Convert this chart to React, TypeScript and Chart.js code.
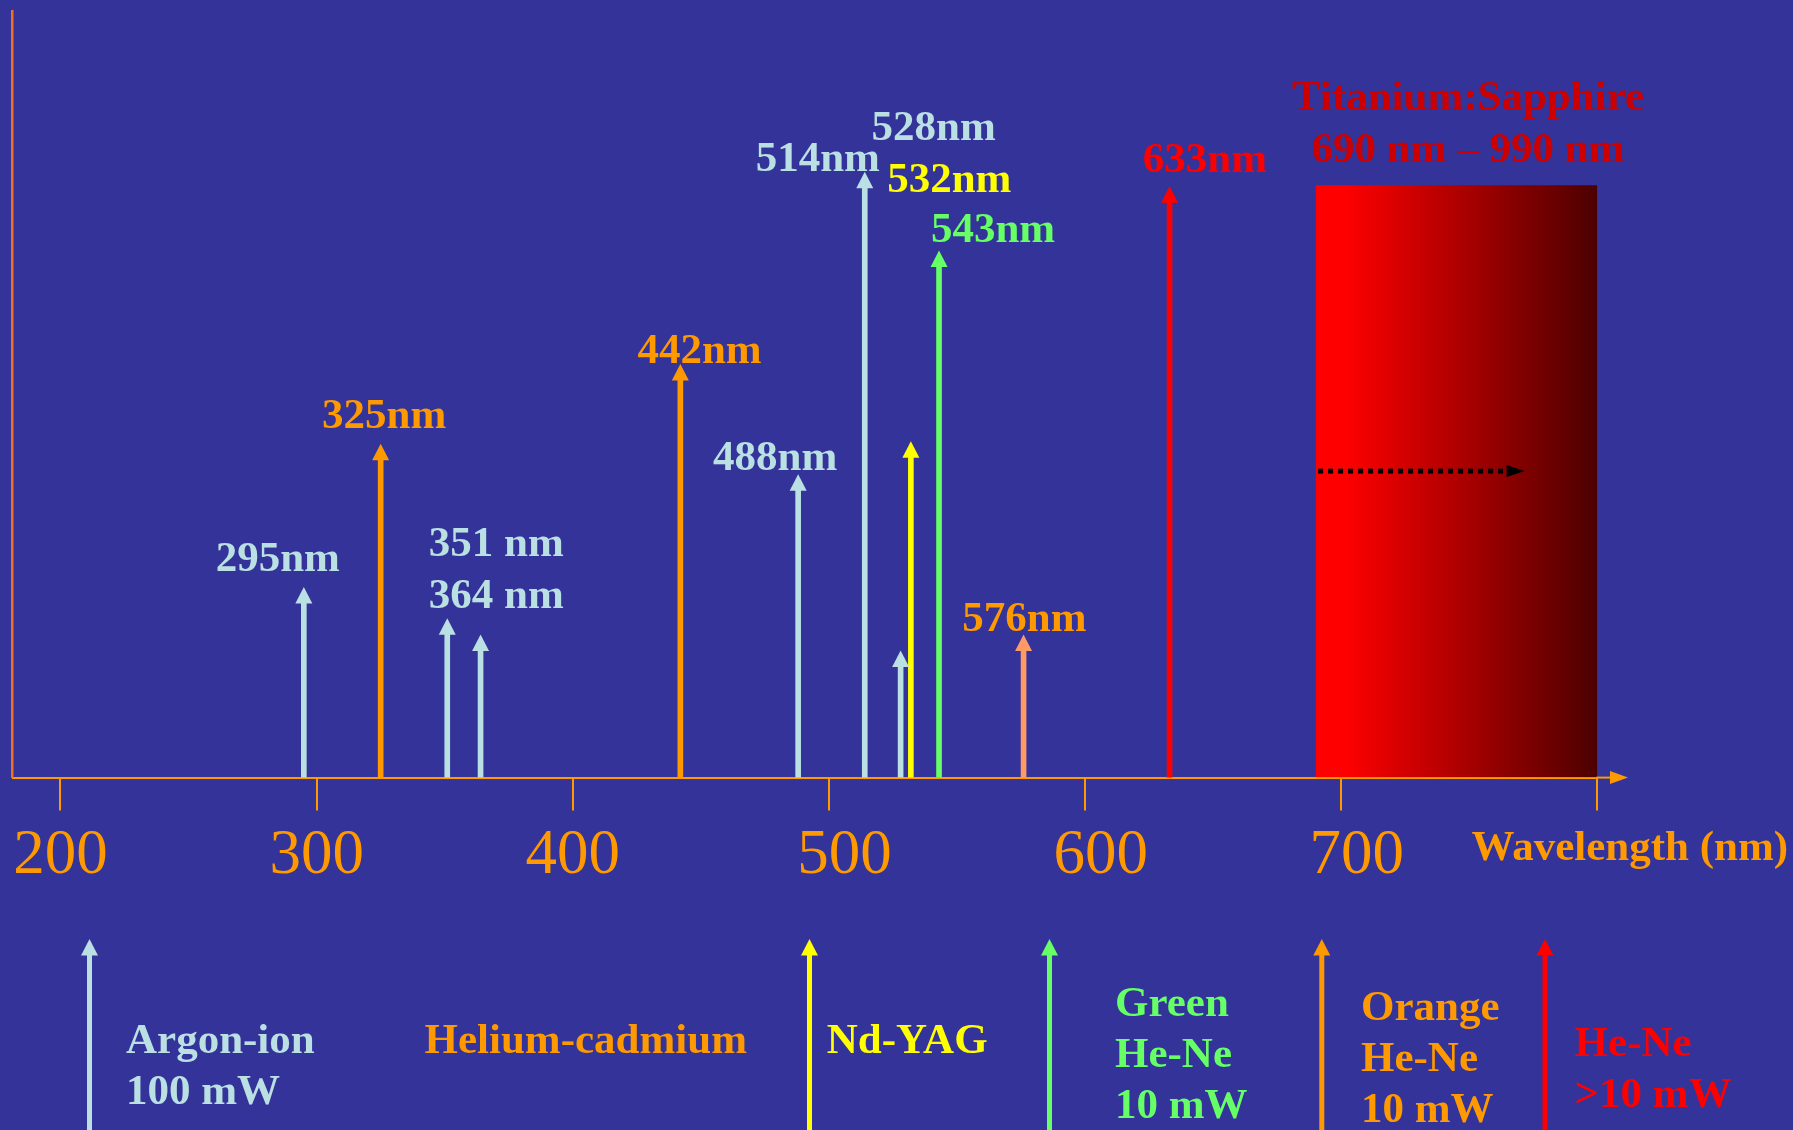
import React, { useEffect, useRef } from 'react';
import { Chart, registerables } from 'chart.js';

Chart.register(...registerables);

// ---- Laser lines on the wavelength axis ----
const WAVELENGTHS = [295, 325, 351, 364, 442, 488, 514, 528, 532, 543, 576, 633];
const LINE_LABELS = ['295nm', '325nm', '351 nm', '364 nm', '442nm', '488nm', '514nm', '528nm', '532nm', '543nm', '576nm', '633nm'];
// relative line strength (height of each arrow shaft)
const LINE_HEIGHTS = [22.8, 41.5, 18.7, 16.6, 51.9, 37.5, 77.0, 14.5, 41.8, 66.7, 16.6, 75.1];
const LINE_SOURCES = ['argon', 'hecd', 'argon', 'argon', 'hecd', 'argon', 'argon', 'argon', 'ndyag', 'greenHeNe', 'orangeHeNe', 'redHeNe'];

// ---- Axis ----
const TICK_VALUES = [200, 300, 400, 500, 600, 700, 800];
const TICK_LABELS = ['200', '300', '400', '500', '600', '700', ''];
const AXIS_TITLE = 'Wavelength (nm)';

// ---- Tunable Ti:Sapphire band ----
const TISA_NAME = 'Titanium:Sapphire';
const TISA_RANGE_TEXT = '690 nm – 990 nm';
const TISA_RANGE = [690, 990];
const TISA_LEVEL = 77.3;
const TUNING_SPAN = [691, 765];
const TUNING_LEVEL = 40;

// ---- Laser key below the axis ----
const LASER_KEYS = ['argon', 'hecd', 'ndyag', 'greenHeNe', 'orangeHeNe', 'redHeNe'];
const LASER_TEXT = [
  ['Argon-ion', '100 mW'],
  ['Helium-cadmium'],
  ['Nd-YAG'],
  ['Green', 'He-Ne', '10 mW'],
  ['Orange', 'He-Ne', '10 mW'],
  ['He-Ne', '>10 mW'],
];
const LASER_HAS_ARROW = [true, false, true, true, true, true];

// ---- Styling & layout ----
const W = 1793;
const H = 1130;
const BG = '#333399';
const AXIS_COLOR = '#FF9900';
const Y_AXIS_COLOR = '#F0701E';
const SERIF = '"Liberation Serif", "Times New Roman", serif';
const BOLD = `bold 43px ${SERIF}`;

const TEXT_COLORS: Record<string, string> = {
  argon: '#BBE0E3',
  hecd: '#FF9900',
  ndyag: '#FFFF00',
  greenHeNe: '#66FF66',
  orangeHeNe: '#FF9900',
  redHeNe: '#FF0000',
};
const ARROW_COLORS: Record<string, string> = {
  argon: '#BBE0E3',
  hecd: '#FF9900',
  ndyag: '#FFFF00',
  greenHeNe: '#66FF66',
  orangeHeNe: '#FF9966',
  redHeNe: '#FF0000',
};
const KEY_ARROW_COLORS: Record<string, string> = { ...ARROW_COLORS, orangeHeNe: '#FF9900' };

// label placement: horizontal shift from its arrow (px) and vertical level (y units)
const LABEL_LAYOUT = [
  { dx: -26, level: 28.8 },
  { dx: 3.5, level: 47.5 },
  { dx: 49, level: 30.7 },
  { dx: 15.7, level: 24.0 },
  { dx: 19.2, level: 55.9 },
  { dx: -23, level: 42.0 },
  { dx: -47, level: 81.0 },
  { dx: 33, level: 85.1 },
  { dx: 38.4, level: 78.3 },
  { dx: 54, level: 71.7 },
  { dx: 0.8, level: 21.0 },
  { dx: 35.4, level: 80.9 },
];
const TICK_LABEL_SHIFT = [0, 0, 0, 15.6, 15.6, 15.6, 0];
const TICK_LABEL_BASELINE = 873;

const KEY_LAYOUT = [
  { arrowX: 89.5, textX: 126, baseY: 1053 },
  { arrowX: 0, textX: 424.5, baseY: 1052.7 },
  { arrowX: 809.5, textX: 826.7, baseY: 1053 },
  { arrowX: 1049.5, textX: 1115, baseY: 1016 },
  { arrowX: 1321.8, textX: 1361, baseY: 1020.3 },
  { arrowX: 1545, textX: 1574.6, baseY: 1055.7 },
];
const KEY_LINE_GAP = 51;
const KEY_ARROW_TIP = 939;

function drawArrowHead(ctx: CanvasRenderingContext2D, x: number, baseY: number, width: number, length: number, color: string) {
  ctx.beginPath();
  ctx.moveTo(x, baseY - length);
  ctx.lineTo(x - width / 2, baseY + 0.5);
  ctx.lineTo(x + width / 2, baseY + 0.5);
  ctx.closePath();
  ctx.fillStyle = color;
  ctx.fill();
}

const decorPlugin = {
  id: 'spectrumDecor',
  beforeDraw(chart: any) {
    const ctx = chart.ctx;
    ctx.save();
    ctx.fillStyle = BG;
    ctx.fillRect(0, 0, chart.width, chart.height);
    ctx.restore();
  },
  afterDatasetsDraw(chart: any) {
    const ctx: CanvasRenderingContext2D = chart.ctx;
    const xs = chart.scales.x;
    const ys = chart.scales.y;
    ctx.save();
    // arrow heads on top of every laser line
    const meta = chart.getDatasetMeta(0);
    meta.data.forEach((bar: any, i: number) => {
      const { x, y } = bar.getProps(['x', 'y'], true);
      drawArrowHead(ctx, x, y, 17, 16, ARROW_COLORS[LINE_SOURCES[i]]);
    });
    // head of the dotted tuning arrow
    const tx = xs.getPixelForValue(TUNING_SPAN[1]);
    const ty = ys.getPixelForValue(TUNING_LEVEL);
    ctx.beginPath();
    ctx.moveTo(tx - 1, ty - 6);
    ctx.lineTo(tx + 17, ty);
    ctx.lineTo(tx - 1, ty + 6);
    ctx.closePath();
    ctx.fillStyle = '#000000';
    ctx.fill();
    ctx.restore();
  },
  afterDraw(chart: any) {
    const ctx: CanvasRenderingContext2D = chart.ctx;
    const xs = chart.scales.x;
    const ys = chart.scales.y;
    const area = chart.chartArea;
    ctx.save();

    // arrow at the end of the wavelength axis
    const axisY = ys.getPixelForValue(0);
    ctx.strokeStyle = AXIS_COLOR;
    ctx.lineWidth = 2;
    ctx.beginPath();
    ctx.moveTo(area.right - 1, axisY);
    ctx.lineTo(1612, axisY);
    ctx.stroke();
    ctx.beginPath();
    ctx.moveTo(1610, axisY - 6.5);
    ctx.lineTo(1628, axisY);
    ctx.lineTo(1610, axisY + 6.5);
    ctx.closePath();
    ctx.fillStyle = AXIS_COLOR;
    ctx.fill();

    // tick labels
    ctx.font = `63px ${SERIF}`;
    ctx.fillStyle = AXIS_COLOR;
    ctx.textAlign = 'center';
    ctx.textBaseline = 'alphabetic';
    TICK_VALUES.forEach((v, i) => {
      if (!TICK_LABELS[i]) return;
      ctx.fillText(TICK_LABELS[i], xs.getPixelForValue(v) + TICK_LABEL_SHIFT[i], TICK_LABEL_BASELINE);
    });

    // axis title
    ctx.font = BOLD;
    ctx.textAlign = 'left';
    ctx.fillText(AXIS_TITLE, 1471.5, 860);

    // wavelength labels of the lines
    ctx.textAlign = 'center';
    const meta = chart.getDatasetMeta(0);
    meta.data.forEach((bar: any, i: number) => {
      const { x } = bar.getProps(['x'], true);
      const lay = LABEL_LAYOUT[i];
      ctx.fillStyle = TEXT_COLORS[LINE_SOURCES[i]];
      ctx.fillText(LINE_LABELS[i], x + lay.dx, ys.getPixelForValue(lay.level) + 14);
    });

    // Ti:Sapphire caption
    ctx.fillStyle = '#CC0000';
    ctx.fillText(TISA_NAME, 1468, 110);
    ctx.fillText(TISA_RANGE_TEXT, 1468, 161.5);

    // laser key
    LASER_KEYS.forEach((key, i) => {
      const lay = KEY_LAYOUT[i];
      if (LASER_HAS_ARROW[i]) {
        const col = KEY_ARROW_COLORS[key];
        ctx.fillStyle = col;
        ctx.fillRect(lay.arrowX - 2.5, KEY_ARROW_TIP + 15, 5, H - KEY_ARROW_TIP - 15);
        drawArrowHead(ctx, lay.arrowX, KEY_ARROW_TIP + 16, 17, 16, col);
      }
      ctx.font = BOLD;
      ctx.textAlign = 'left';
      ctx.fillStyle = TEXT_COLORS[key];
      LASER_TEXT[i].forEach((line, j) => {
        ctx.fillText(line, lay.textX, lay.baseY + j * KEY_LINE_GAP);
      });
    });

    ctx.restore();
  },
};

export default function App() {
  const canvasRef = useRef<HTMLCanvasElement>(null);

  useEffect(() => {
    const canvas = canvasRef.current;
    if (!canvas) return;

    const tisaFill = (c: any) => {
      const chart = c.chart;
      const area = chart.chartArea;
      if (!area) return '#FF0000';
      const x0 = chart.scales.x.getPixelForValue(TISA_RANGE[0]);
      const x1 = Math.min(area.right, chart.scales.x.getPixelForValue(TISA_RANGE[1]));
      const g = chart.ctx.createLinearGradient(x0, 0, x1, 0);
      g.addColorStop(0, '#FF0000');
      g.addColorStop(0.1, '#FF0000');
      g.addColorStop(1, '#4C0000');
      return g;
    };

    const chart = new Chart(canvas, {
      type: 'bar',
      data: {
        datasets: [
          {
            type: 'bar',
            label: 'Laser lines',
            data: WAVELENGTHS.map((w, i) => ({ x: w, y: LINE_HEIGHTS[i] })),
            backgroundColor: LINE_SOURCES.map((s) => ARROW_COLORS[s]),
            borderWidth: 0,
            barThickness: 5,
          },
          {
            type: 'line',
            label: 'Tuning',
            data: TUNING_SPAN.map((w) => ({ x: w, y: TUNING_LEVEL })),
            borderColor: '#000000',
            borderWidth: 5,
            borderDash: [5, 5],
            borderCapStyle: 'butt',
            pointRadius: 0,
            fill: false,
          },
          {
            type: 'line',
            label: TISA_NAME,
            data: TISA_RANGE.map((w) => ({ x: w, y: TISA_LEVEL })),
            borderWidth: 0,
            pointRadius: 0,
            fill: 'origin',
            backgroundColor: tisaFill,
          },
        ] as any,
      },
      options: {
        responsive: false,
        animation: false,
        events: [],
        layout: {
          padding: { left: 12.5, top: 11.4, right: W - 1597.3, bottom: H - 777.6 - 33 },
        },
        plugins: {
          legend: { display: false },
          tooltip: { enabled: false },
        },
        scales: {
          x: {
            type: 'linear',
            min: 181.26,
            max: 800,
            offset: false,
            z: 1,
            afterBuildTicks: (axis: any) => {
              axis.ticks = TICK_VALUES.map((value) => ({ value }));
            },
            grid: {
              display: true,
              offset: false,
              drawOnChartArea: false,
              drawTicks: true,
              tickLength: 33,
              color: AXIS_COLOR,
              lineWidth: 2,
            },
            border: { display: true, color: AXIS_COLOR, width: 2 },
            ticks: { display: false },
          },
          y: {
            type: 'linear',
            min: 0,
            max: 100,
            grid: { display: false, drawTicks: false },
            border: { display: true, color: Y_AXIS_COLOR, width: 2.5 },
            ticks: { display: false },
          },
        },
      } as any,
      plugins: [decorPlugin],
    });

    return () => chart.destroy();
  }, []);

  return (
    <div style={{ position: 'fixed', left: 0, top: 0, width: W, height: H, background: BG }}>
      <canvas ref={canvasRef} width={W} height={H} style={{ display: 'block' }} />
    </div>
  );
}
